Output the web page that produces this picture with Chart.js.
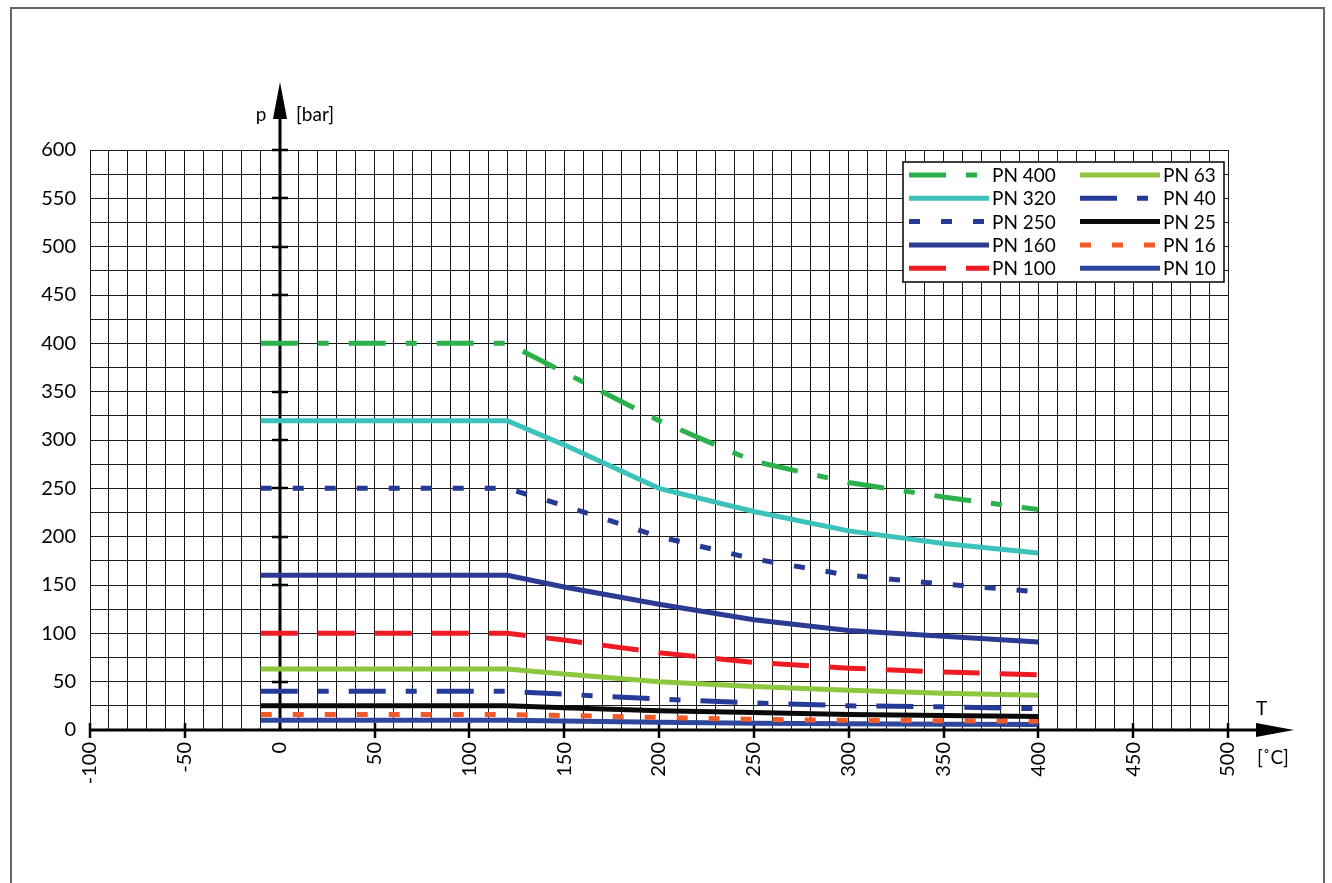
<!DOCTYPE html>
<html>
<head>
<meta charset="utf-8">
<title>PN p-T</title>
<script src="https://cdn.jsdelivr.net/npm/chart.js@4.4.1/dist/chart.umd.min.js"></script>
<style>
  html, body { margin: 0; padding: 0; background: #fff; }
  canvas { display: block; }
</style>
</head>
<body>
<canvas id="ptChart" width="1332" height="883"></canvas>
<script>
// -----------------------------------------------------------------------------
// Pressure / temperature ratings per nominal pressure class (PN)
// x = temperature [°C], y = allowed pressure [bar]
// -----------------------------------------------------------------------------
const temps = [-10, 120, 150, 200, 250, 300, 350, 400];

const pn400 = [400, 400, 370, 320, 278, 256, 241, 228];
const pn320 = [320, 320, 295, 250, 226, 206, 193, 183];
const pn250 = [250, 250, 232, 200, 177, 160, 151, 143];
const pn160 = [160, 160, 148, 130, 114, 103, 97, 91];
const pn100 = [100, 100, 93, 80, 70, 64, 60, 57];
const pn63  = [63, 63, 58, 50, 45, 41, 38, 36];
const pn40  = [40, 40, 37, 32, 28, 25, 24, 22];
const pn25  = [25, 25, 23, 20, 18, 16, 15, 14];
const pn16  = [16, 16, 15, 13, 11, 10, 9.6, 9];
const pn10  = [10, 10, 9.3, 8, 7, 6.4, 6, 5.6];

const seriesLabels = ['PN 400', 'PN 320', 'PN 250', 'PN 160', 'PN 100',
                      'PN 63', 'PN 40', 'PN 25', 'PN 16', 'PN 10'];

// Axis range and labelled ticks
const xMin = -100, xMax = 500;
const yMin = 0, yMax = 600;
const labelStep = 50;

const FONT = 'Lato, "Noto Sans", sans-serif';

// Dash patterns
const longShort = [37, 20, 11, 20];
const shortDash = [11, 21];
const longDash  = [37, 20];

function pts(values) {
    return temps.map((t, i) => ({ x: t, y: values[i] }));
}

function series(label, values, color, dash) {
    return {
        label: label,
        data: pts(values),
        borderColor: color,
        backgroundColor: color,
        borderWidth: 5,
        borderDash: dash || [],
        pointRadius: 0,
        tension: 0,
        fill: false
    };
}

const datasets = [
    series(seriesLabels[0], pn400, '#2bb14b', longShort),
    series(seriesLabels[1], pn320, '#3cc2bb'),
    series(seriesLabels[2], pn250, '#253a95', shortDash),
    series(seriesLabels[3], pn160, '#2b3a92'),
    series(seriesLabels[4], pn100, '#ed1c24', longDash),
    series(seriesLabels[5], pn63,  '#8dc63f'),
    series(seriesLabels[6], pn40,  '#263b97', longShort),
    series(seriesLabels[7], pn25,  '#0a0a0a'),
    series(seriesLabels[8], pn16,  '#f15a29', shortDash),
    series(seriesLabels[9], pn10,  '#2e479c')
];

// Thick axes through T = 0 and p = 0 with arrow heads, tick marks and units
const axesPlugin = {
    id: 'axesPlugin',
    beforeDatasetsDraw(chart) {
        const ctx = chart.ctx;
        const xs = chart.scales.x, ys = chart.scales.y;
        const x0 = Math.round(xs.getPixelForValue(0));
        const y0 = Math.round(ys.getPixelForValue(0));
        const top = ys.getPixelForValue(yMax);
        ctx.save();
        ctx.strokeStyle = '#000';
        ctx.fillStyle = '#000';

        // vertical p axis
        ctx.lineWidth = 3;
        ctx.beginPath();
        ctx.moveTo(x0, y0);
        ctx.lineTo(x0, 112);
        ctx.stroke();
        ctx.beginPath();
        ctx.moveTo(x0, 82);
        ctx.lineTo(x0 - 7, 119);
        ctx.lineTo(x0 + 7, 119);
        ctx.closePath();
        ctx.fill();

        // horizontal T axis
        ctx.beginPath();
        ctx.moveTo(xs.left, y0);
        ctx.lineTo(1262, y0);
        ctx.stroke();
        ctx.beginPath();
        ctx.moveTo(1294, y0);
        ctx.lineTo(1256, y0 - 7);
        ctx.lineTo(1256, y0 + 7);
        ctx.closePath();
        ctx.fill();

        // tick marks every 50
        ctx.lineWidth = 2.5;
        for (let v = yMin + labelStep; v <= yMax; v += labelStep) {
            const py = Math.round(ys.getPixelForValue(v));
            ctx.beginPath();
            ctx.moveTo(x0 - 8, py);
            ctx.lineTo(x0 + 8, py);
            ctx.stroke();
        }
        for (let v = xMin; v <= xMax; v += labelStep) {
            if (v === 0) continue;
            const px = Math.round(xs.getPixelForValue(v));
            ctx.beginPath();
            ctx.moveTo(px, y0 - 7);
            ctx.lineTo(px, y0 + 8);
            ctx.stroke();
        }

        // axis names
        ctx.font = '19px ' + FONT;
        ctx.textBaseline = 'alphabetic';
        ctx.textAlign = 'center';
        ctx.fillText('p', x0 - 19, 121);
        ctx.textAlign = 'left';
        ctx.fillText('[bar]', x0 + 16, 121);
        ctx.fillText('T', 1256, 715);
        ctx.fillText('[˚C]', 1257, 764);
        ctx.restore();
    }
};

// Two-column legend box in the upper right corner
const legendPlugin = {
    id: 'legendPlugin',
    afterDatasetsDraw(chart) {
        const ctx = chart.ctx;
        const box = { x: 903, y: 162, w: 321, h: 120 };
        ctx.save();
        ctx.fillStyle = '#fff';
        ctx.fillRect(box.x, box.y, box.w, box.h);
        ctx.lineWidth = 1.5;
        ctx.strokeStyle = '#000';
        ctx.strokeRect(box.x, box.y, box.w, box.h);

        ctx.font = '19px ' + FONT;
        ctx.textBaseline = 'middle';
        ctx.textAlign = 'left';
        chart.data.datasets.forEach((ds, i) => {
            const col = Math.floor(i / 5), row = i % 5;
            const lx = col === 0 ? 909 : 1080;
            const ly = 175 + row * 23.3;
            ctx.strokeStyle = ds.borderColor;
            ctx.lineWidth = 5;
            ctx.setLineDash(ds.borderDash || []);
            ctx.beginPath();
            ctx.moveTo(lx, ly);
            ctx.lineTo(lx + 80, ly);
            ctx.stroke();
            ctx.setLineDash([]);
            ctx.fillStyle = '#000';
            ctx.fillText(ds.label, lx + 83, ly + 1);
        });
        ctx.restore();
    },
    afterDraw(chart) {
        // outer frame
        const ctx = chart.ctx;
        ctx.save();
        ctx.strokeStyle = '#666';
        ctx.lineWidth = 2;
        ctx.strokeRect(11, 8, 1313, 900);
        ctx.restore();
    }
};

new Chart(document.getElementById('ptChart'), {
    type: 'line',
    data: { datasets: datasets },
    plugins: [axesPlugin, legendPlugin],
    options: {
        responsive: false,
        animation: false,
        layout: { padding: { left: 10, top: 150, right: 104, bottom: 0 } },
        plugins: {
            legend: { display: false },
            tooltip: { enabled: false }
        },
        scales: {
            x: {
                type: 'linear',
                min: xMin,
                max: xMax,
                afterFit: (scale) => { scale.height = 153; },
                border: { display: false },
                grid: { color: '#1a1a1a', lineWidth: 1, drawTicks: false },
                ticks: {
                    stepSize: 10,
                    autoSkip: false,
                    minRotation: 90,
                    maxRotation: 90,
                    padding: 12,
                    color: '#000',
                    font: { family: FONT, size: 20 },
                    callback: (v) => (v % labelStep === 0 ? String(v) : '')
                }
            },
            y: {
                type: 'linear',
                min: yMin,
                max: yMax,
                afterFit: (scale) => { scale.width = 80; },
                border: { display: false },
                grid: { color: '#1a1a1a', lineWidth: 1, drawTicks: false },
                ticks: {
                    stepSize: 25,
                    autoSkip: false,
                    padding: 14,
                    color: '#000',
                    font: { family: FONT, size: 20 },
                    callback: (v) => (v % labelStep === 0 ? String(v) : '')
                }
            }
        }
    }
});
</script>
</body>
</html>
